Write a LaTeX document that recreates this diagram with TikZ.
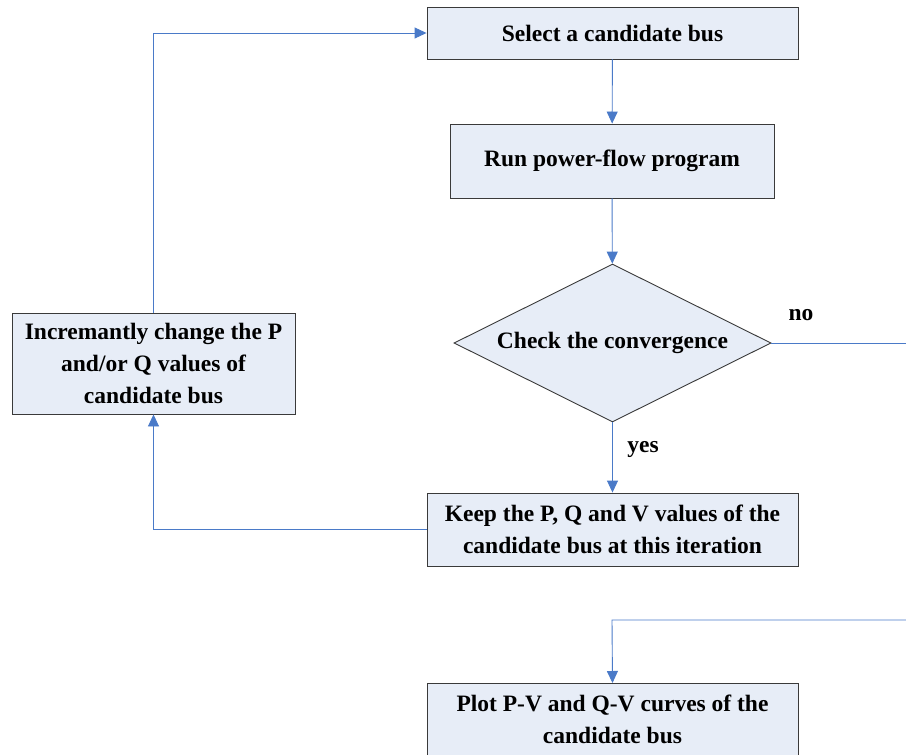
\documentclass[tikz,border=0pt]{standalone}
\usepackage{fontspec}
\setmainfont{Liberation Serif}
\usetikzlibrary{arrows.meta,shapes.geometric}
\definecolor{boxfill}{HTML}{E7EDF7}
\definecolor{boxline}{HTML}{3A3A3A}
\definecolor{conn}{HTML}{4A7AC8}
\begin{document}
\begin{tikzpicture}[x=1pt,y=-1pt,
  every node/.style={font=\fontsize{23.5}{32}\selectfont\bfseries},
  procbox/.style={draw=boxline,fill=boxfill,line width=0.9pt,align=center,inner sep=0pt},
  decbox/.style={draw=boxline,fill=boxfill,line width=0.9pt,diamond,aspect=2.2,inner sep=0pt},
  conline/.style={draw=conn,line width=0.9pt},
  conarrow/.style={conline,-{Triangle[length=12pt,width=11pt]}},
  lbl/.style={inner sep=0pt}]
\useasboundingbox (0,0) rectangle (906,755);
\node[procbox,minimum width=371pt,minimum height=52pt] (sel) at (612.5,33) {Select a candidate bus};
\node[procbox,minimum width=324pt,minimum height=74pt] (run) at (612,161) {Run power-flow program};
\node[decbox,minimum width=317pt,minimum height=158pt] (chk) at (612.5,343) {Check the convergence};
\node[procbox,minimum width=283pt,minimum height=101pt] (inc) at (153.5,363.5) {Incremantly change the P\\and/or Q values of\\candidate bus};
\node[procbox,minimum width=371pt,minimum height=73pt] (keep) at (612.5,529.5) {Keep the P, Q and V values of the\\candidate bus at this iteration};
\node[procbox,minimum width=371pt,minimum height=72pt,anchor=north] (plot) at (612.5,683) {Plot P-V and Q-V curves of the\\candidate bus};
\coordinate (noend) at (906,343);
\coordinate (retstart) at (906,620);
\coordinate (retcorner) at (612,620);
\coordinate (keepcorner) at (153.5,529.5);
\coordinate (inctop) at (153.5,33);
\draw[conarrow] (sel) -- (run);
\draw[conarrow] (run) -- (chk);
\draw[conarrow] (chk) -- (keep);
\draw[conline] (chk.east) -- (noend);
\draw[conarrow] (retstart) -- (retcorner) -- (plot.north);
\draw[conarrow] (keep.west) -- (keepcorner) -- (inc.south);
\draw[conarrow] (inc.north) -- (inctop) -- (sel.west);
\node[lbl] (yes) at (643,449) {yes};
\node[lbl] (no) at (801,315) {no};
\end{tikzpicture}
\end{document}
